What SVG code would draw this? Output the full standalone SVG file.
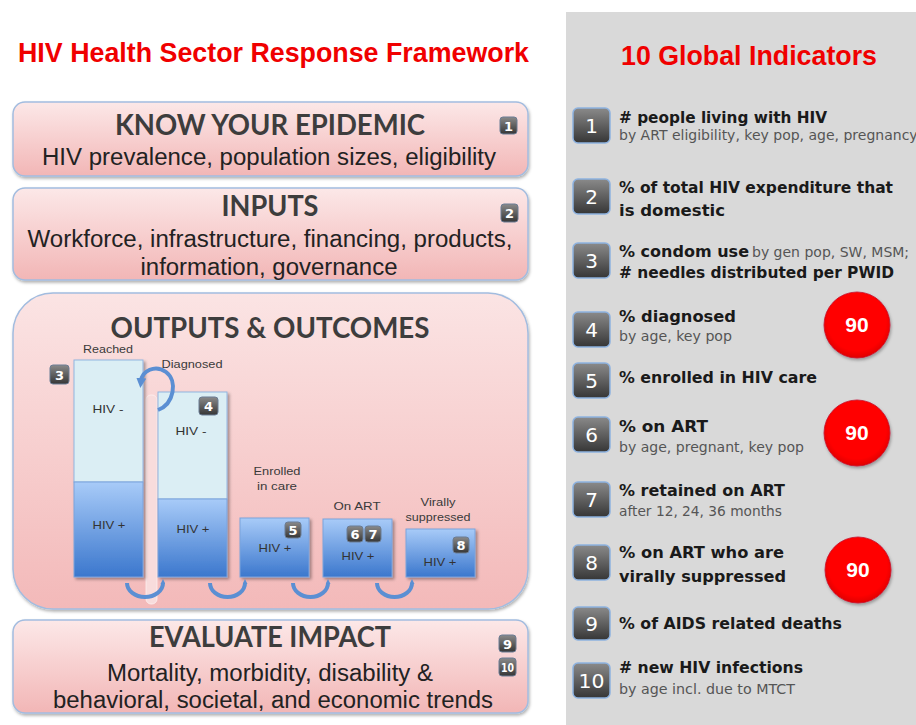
<svg xmlns="http://www.w3.org/2000/svg" width="916" height="725" viewBox="0 0 916 725">
  <defs>
    <linearGradient id="pink" x1="0" y1="0" x2="0" y2="1">
      <stop offset="0" stop-color="#fce8e8"/>
      <stop offset="1" stop-color="#f2b6b6"/>
    </linearGradient>
    <linearGradient id="pinkBig" x1="0" y1="0" x2="0" y2="1">
      <stop offset="0" stop-color="#fbe4e4"/>
      <stop offset="1" stop-color="#f3b9b9"/>
    </linearGradient>
    <linearGradient id="hivPos" x1="0" y1="0" x2="0" y2="1">
      <stop offset="0" stop-color="#a8cbf8"/>
      <stop offset="1" stop-color="#3b77cd"/>
    </linearGradient>
    <linearGradient id="badge" x1="0" y1="0" x2="0" y2="1">
      <stop offset="0" stop-color="#8a8a8a"/>
      <stop offset="1" stop-color="#363636"/>
    </linearGradient>
    <radialGradient id="red" cx="0.5" cy="0.45" r="0.55">
      <stop offset="0.8" stop-color="#ff0000"/>
      <stop offset="1" stop-color="#e00000"/>
    </radialGradient>
    <filter id="shadow" x="-5%" y="-5%" width="112%" height="125%">
      <feDropShadow dx="1" dy="2" stdDeviation="1.5" flood-color="#000" flood-opacity="0.3"/>
    </filter>
    <filter id="barShadow" x="-10%" y="-10%" width="130%" height="130%">
      <feDropShadow dx="2" dy="2" stdDeviation="1.5" flood-color="#000" flood-opacity="0.35"/>
    </filter>
    <marker id="loopHead" viewBox="0 0 10 10" refX="3" refY="5" markerWidth="10" markerHeight="10" markerUnits="userSpaceOnUse" orient="auto">
      <path d="M0,0 L10,5 L0,10 Z" fill="#5b8fd3"/>
    </marker>
    <marker id="tip" viewBox="0 0 10 10" refX="2" refY="5" markerWidth="5" markerHeight="5" markerUnits="userSpaceOnUse" orient="auto">
      <path d="M0,0 L10,5 L0,10 Z" fill="#5b8fd3"/>
    </marker>
  </defs>
  <style>
    .title{font-family:"Liberation Sans",Arial,sans-serif;font-weight:bold;font-size:28px;fill:#f00000}
    .head{font-family:Lato,"Liberation Sans",sans-serif;font-weight:bold;font-size:28px;fill:#3d3d3d;text-anchor:middle}
    .body{font-family:"Liberation Sans",Arial,sans-serif;font-size:23px;fill:#222222;text-anchor:middle}
    .box{fill:url(#pink);stroke:#a2bcdf;stroke-width:1.5}
    .lbl{font-family:"Liberation Sans",Arial,sans-serif;font-size:11.5px;fill:#3a3a3a;text-anchor:middle}
    .bin{font-family:"Liberation Sans",Arial,sans-serif;font-size:11px;fill:#333333;text-anchor:middle}
    .neg{fill:#dbeef4;stroke:#92b5e0;stroke-width:1}
    .pos{fill:url(#hivPos);stroke:#7aa3dc;stroke-width:1}
    .sb{fill:url(#badge);stroke:#6b7c94;stroke-width:1}
    .sbn{font-family:"DejaVu Sans",sans-serif;font-weight:bold;font-size:13px;fill:#ffffff;text-anchor:middle}
    .bg{fill:url(#badge);stroke:#8db2e0;stroke-width:1.5}
    .bgn{font-family:"DejaVu Sans",sans-serif;font-size:20px;fill:#ffffff;text-anchor:middle}
    .ind{font-family:"DejaVu Sans",sans-serif;font-weight:bold;font-size:16px;fill:#1a1a1a}
    .sub{font-family:"DejaVu Sans",sans-serif;font-size:14px;fill:#555555}
    .ring{fill:url(#red);stroke:#c8102e;stroke-width:0.8}
    .ninety{font-family:"Liberation Sans",Arial,sans-serif;font-weight:bold;font-size:21px;fill:#ffffff;text-anchor:middle}
    .flow{fill:none;stroke:#5b8fd3;stroke-width:4}
  </style>

  <rect width="916" height="725" fill="#ffffff"/>

  <!-- right-hand indicator panel background -->
  <rect id="indicator-panel" x="566" y="12" width="350" height="713" fill="#d9d9d9"/>

  <!-- titles -->
  <text class="title" x="18" y="62" textLength="511" lengthAdjust="spacingAndGlyphs">HIV Health Sector Response Framework</text>
  <text class="title" x="621" y="65" textLength="256" lengthAdjust="spacingAndGlyphs">10 Global Indicators</text>

  <!-- framework stages -->
  <g id="know-your-epidemic">
    <rect class="box" x="13" y="102" width="515" height="74" rx="12" filter="url(#shadow)"/>
    <text class="head" x="270" y="135" textLength="310" lengthAdjust="spacingAndGlyphs">KNOW YOUR EPIDEMIC</text>
    <text class="body" x="269" y="165" textLength="454" lengthAdjust="spacingAndGlyphs">HIV prevalence, population sizes, eligibility</text>
    <rect class="sb" x="500" y="117" width="17" height="17" rx="3"/>
    <text class="sbn" x="508.5" y="130.5">1</text>
  </g>

  <g id="inputs">
    <rect class="box" x="13" y="188" width="515" height="92" rx="12" filter="url(#shadow)"/>
    <text class="head" x="270" y="216" textLength="97" lengthAdjust="spacingAndGlyphs">INPUTS</text>
    <text class="body" x="270" y="247" textLength="485" lengthAdjust="spacingAndGlyphs">Workforce, infrastructure, financing, products,</text>
    <text class="body" x="269" y="275" textLength="257" lengthAdjust="spacingAndGlyphs">information, governance</text>
    <rect class="sb" x="501" y="204" width="17" height="18" rx="3"/>
    <text class="sbn" x="509.5" y="218">2</text>
  </g>

  <g id="outputs-outcomes">
    <rect x="13" y="293" width="515" height="316" rx="40" fill="url(#pinkBig)" stroke="#a2bcdf" stroke-width="1.5" filter="url(#shadow)"/>
    <text class="head" x="270" y="338" textLength="319" lengthAdjust="spacingAndGlyphs">OUTPUTS &amp; OUTCOMES</text>
    <!-- pale guide strip between the first two bars -->
    <rect x="146" y="395" width="11" height="209" rx="5" fill="#f8dcdc" stroke="#fdf0f0" stroke-width="0.8"/>
  </g>

  <g id="cascade-reached">
    <text class="lbl" x="108" y="353" textLength="50" lengthAdjust="spacingAndGlyphs">Reached</text>
    <g filter="url(#barShadow)">
      <rect class="neg" x="74" y="360" width="69" height="122"/>
      <rect class="pos" x="74" y="482" width="69" height="95"/>
    </g>
    <text class="bin" x="108" y="413" textLength="31" lengthAdjust="spacingAndGlyphs">HIV -</text>
    <text class="bin" x="109" y="529" textLength="33" lengthAdjust="spacingAndGlyphs">HIV +</text>
    <rect class="sb" x="50" y="365" width="19" height="19" rx="3"/>
    <text class="sbn" x="59.5" y="379.5">3</text>
  </g>

  <g id="cascade-diagnosed">
    <text class="lbl" x="192" y="368" textLength="61" lengthAdjust="spacingAndGlyphs">Diagnosed</text>
    <g filter="url(#barShadow)">
      <rect class="neg" x="158" y="392" width="69" height="107"/>
      <rect class="pos" x="158" y="499" width="69" height="78"/>
    </g>
    <text class="bin" x="191" y="435" textLength="31" lengthAdjust="spacingAndGlyphs">HIV -</text>
    <text class="bin" x="193" y="533" textLength="33" lengthAdjust="spacingAndGlyphs">HIV +</text>
    <rect class="sb" x="199" y="397" width="19" height="18" rx="3"/>
    <text class="sbn" x="208.5" y="411">4</text>
  </g>

  <g id="cascade-enrolled">
    <text class="lbl" x="277" y="475" textLength="47" lengthAdjust="spacingAndGlyphs">Enrolled</text>
    <text class="lbl" x="277" y="490" textLength="40" lengthAdjust="spacingAndGlyphs">in care</text>
    <rect class="pos" x="240" y="518" width="69" height="59" filter="url(#barShadow)"/>
    <text class="bin" x="275" y="552" textLength="33" lengthAdjust="spacingAndGlyphs">HIV +</text>
    <rect class="sb" x="285" y="522" width="16" height="16" rx="3"/>
    <text class="sbn" x="293" y="535">5</text>
  </g>

  <g id="cascade-on-art">
    <text class="lbl" x="357" y="510" textLength="47" lengthAdjust="spacingAndGlyphs">On ART</text>
    <rect class="pos" x="323" y="519" width="69" height="58" filter="url(#barShadow)"/>
    <text class="bin" x="358" y="560" textLength="33" lengthAdjust="spacingAndGlyphs">HIV +</text>
    <rect class="sb" x="347" y="526" width="16" height="16" rx="3"/>
    <text class="sbn" x="355" y="539">6</text>
    <rect class="sb" x="365" y="526" width="16" height="16" rx="3"/>
    <text class="sbn" x="373" y="539">7</text>
  </g>

  <g id="cascade-suppressed">
    <text class="lbl" x="438" y="506" textLength="35" lengthAdjust="spacingAndGlyphs">Virally</text>
    <text class="lbl" x="438" y="521" textLength="65" lengthAdjust="spacingAndGlyphs">suppressed</text>
    <rect class="pos" x="406" y="529" width="69" height="48" filter="url(#barShadow)"/>
    <text class="bin" x="440" y="566" textLength="33" lengthAdjust="spacingAndGlyphs">HIV +</text>
    <rect class="sb" x="453" y="537" width="16" height="16" rx="3"/>
    <text class="sbn" x="461" y="550">8</text>
  </g>

  <!-- cascade connectors -->
  <g id="connectors">
    <path class="flow" d="M158,410 C174,404 178,381 166,372 C155,364 142,371 141,381" marker-end="url(#loopHead)"/>
    <path class="flow" d="M127,583 A18,14 0 0 0 163,583" marker-end="url(#tip)"/>
    <path class="flow" d="M210,583 A17.5,14 0 0 0 245,583" marker-end="url(#tip)"/>
    <path class="flow" d="M293,583 A17.5,14 0 0 0 328,583" marker-end="url(#tip)"/>
    <path class="flow" d="M377,583 A17.5,14 0 0 0 412,583" marker-end="url(#tip)"/>
  </g>

  <g id="evaluate-impact">
    <rect class="box" x="13" y="620" width="515" height="93" rx="12" filter="url(#shadow)"/>
    <text class="head" x="270" y="647" textLength="242" lengthAdjust="spacingAndGlyphs">EVALUATE IMPACT</text>
    <text class="body" x="270" y="681" textLength="326" lengthAdjust="spacingAndGlyphs">Mortality, morbidity, disability &amp;</text>
    <text class="body" x="273" y="708" textLength="440" lengthAdjust="spacingAndGlyphs">behavioral, societal, and economic trends</text>
    <rect class="sb" x="499" y="635" width="17" height="17" rx="3"/>
    <text class="sbn" x="507.5" y="648.5">9</text>
    <rect class="sb" x="499" y="658" width="17" height="18" rx="3"/>
    <text class="sbn" x="507.5" y="671.5" font-size="10" textLength="13" lengthAdjust="spacingAndGlyphs">10</text>
  </g>

  <!-- global indicators -->
  <g id="indicator-1">
    <rect class="bg" x="573" y="108" width="37" height="35" rx="5"/>
    <text class="bgn" x="591.5" y="133">1</text>
    <text class="ind" x="619" y="123" textLength="208" lengthAdjust="spacingAndGlyphs"># people living with HIV</text>
    <text class="sub" x="619" y="140" font-size="14.5">by ART eligibility, key pop, age, pregnancy</text>
  </g>
  <g id="indicator-2">
    <rect class="bg" x="573" y="179" width="37" height="35" rx="5"/>
    <text class="bgn" x="591.5" y="204">2</text>
    <text class="ind" x="619" y="193" textLength="274" lengthAdjust="spacingAndGlyphs">% of total HIV expenditure that</text>
    <text class="ind" x="619" y="216" textLength="106" lengthAdjust="spacingAndGlyphs">is domestic</text>
  </g>
  <g id="indicator-3">
    <rect class="bg" x="573" y="243" width="37" height="35" rx="5"/>
    <text class="bgn" x="591.5" y="268">3</text>
    <text class="ind" x="619" y="257" textLength="130" lengthAdjust="spacingAndGlyphs">% condom use</text>
    <text class="sub" x="752" y="257">by gen pop, SW, MSM;</text>
    <text class="ind" x="619" y="278" textLength="275" lengthAdjust="spacingAndGlyphs"># needles distributed per PWID</text>
  </g>
  <g id="indicator-4">
    <rect class="bg" x="573" y="312" width="37" height="35" rx="5"/>
    <text class="bgn" x="591.5" y="337">4</text>
    <text class="ind" x="619" y="322" textLength="117" lengthAdjust="spacingAndGlyphs">% diagnosed</text>
    <text class="sub" x="619" y="341" textLength="113" lengthAdjust="spacingAndGlyphs">by age, key pop</text>
    <circle class="ring" cx="857" cy="325" r="33" filter="url(#shadow)"/>
    <text class="ninety" x="857" y="332">90</text>
  </g>
  <g id="indicator-5">
    <rect class="bg" x="573" y="363" width="37" height="35" rx="5"/>
    <text class="bgn" x="591.5" y="388">5</text>
    <text class="ind" x="619" y="383" textLength="198" lengthAdjust="spacingAndGlyphs">% enrolled in HIV care</text>
  </g>
  <g id="indicator-6">
    <rect class="bg" x="573" y="417" width="37" height="35" rx="5"/>
    <text class="bgn" x="591.5" y="442">6</text>
    <text class="ind" x="619" y="432" textLength="89" lengthAdjust="spacingAndGlyphs">% on ART</text>
    <text class="sub" x="619" y="452" textLength="185" lengthAdjust="spacingAndGlyphs">by age, pregnant, key pop</text>
    <circle class="ring" cx="857" cy="433" r="33" filter="url(#shadow)"/>
    <text class="ninety" x="857" y="440">90</text>
  </g>
  <g id="indicator-7">
    <rect class="bg" x="573" y="482" width="37" height="35" rx="5"/>
    <text class="bgn" x="591.5" y="507">7</text>
    <text class="ind" x="619" y="496" textLength="166" lengthAdjust="spacingAndGlyphs">% retained on ART</text>
    <text class="sub" x="619" y="516" textLength="163" lengthAdjust="spacingAndGlyphs">after 12, 24, 36 months</text>
  </g>
  <g id="indicator-8">
    <rect class="bg" x="573" y="545" width="37" height="35" rx="5"/>
    <text class="bgn" x="591.5" y="570">8</text>
    <text class="ind" x="619" y="558" textLength="165" lengthAdjust="spacingAndGlyphs">% on ART who are</text>
    <text class="ind" x="619" y="582" textLength="167" lengthAdjust="spacingAndGlyphs">virally suppressed</text>
    <circle class="ring" cx="858" cy="570" r="33" filter="url(#shadow)"/>
    <text class="ninety" x="858" y="577">90</text>
  </g>
  <g id="indicator-9">
    <rect class="bg" x="573" y="607" width="37" height="33" rx="5"/>
    <text class="bgn" x="591.5" y="631">9</text>
    <text class="ind" x="619" y="629" textLength="223" lengthAdjust="spacingAndGlyphs">% of AIDS related deaths</text>
  </g>
  <g id="indicator-10">
    <rect class="bg" x="573" y="663" width="37" height="35" rx="5"/>
    <text class="bgn" x="591.5" y="688" textLength="26" lengthAdjust="spacingAndGlyphs">10</text>
    <text class="ind" x="619" y="673" textLength="184" lengthAdjust="spacingAndGlyphs"># new HIV infections</text>
    <text class="sub" x="619" y="694" textLength="176" lengthAdjust="spacingAndGlyphs">by age incl. due to MTCT</text>
  </g>
</svg>
